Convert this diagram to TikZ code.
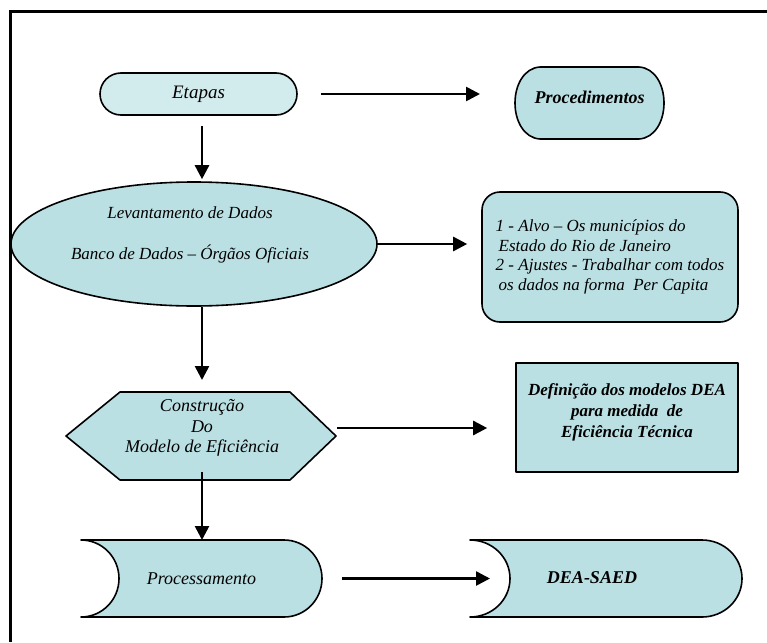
\documentclass[tikz,border=0pt]{standalone}
\usepackage{fontspec}
\setmainfont{Liberation Serif}
\usetikzlibrary{arrows.meta,shapes.geometric}
\definecolor{lightfill}{RGB}{210,235,237}
\definecolor{shapefill}{RGB}{187,224,227}
\newcommand{\fsz}[2]{\fontsize{#1}{#2}\selectfont}
\begin{document}
\begin{tikzpicture}[x=1pt,y=-1pt,
  box/.style={draw=black, line width=1.6pt, fill=shapefill, line join=round},
  arr/.style={line width=2.6pt, -{Triangle[length=14pt,width=14pt]}},
  ghost/.style={inner sep=0pt, outer sep=0pt, draw=none},
  txt/.style={inner sep=0pt, outer sep=0pt, align=center}]
\useasboundingbox (0,0) rectangle (767,642);
\fill[white] (0,0) rectangle (767,642);
% frame
\draw[line width=3pt] (10,642) -- (10,12) -- (767,12);

% Etapas
\node[box, fill=lightfill, rounded corners=21pt, minimum width=197pt, minimum height=42pt,
      inner sep=0pt, font=\fsz{19}{22}\itshape] (etapas) at (198.5,94) {Etapas};

% Procedimentos
\draw[box] (540,67) -- (639,67) .. controls (655,68) and (664,85) .. (664,103)
  .. controls (664,121) and (655,138) .. (639,139) -- (540,139)
  .. controls (524,138) and (515,121) .. (515,103)
  .. controls (515,85) and (524,68) .. (540,67) -- cycle;
\node[ghost, minimum width=149pt, minimum height=72pt] (proc) at (589.5,103) {};
\node[txt, font=\fsz{18}{21}\bfseries\itshape] (proctxt) at (589.5,97) {Procedimentos};

% Levantamento ellipse
\node[box, ellipse, minimum width=366pt, minimum height=124pt, inner sep=0pt] (lev) at (194,244) {};
\node[txt, font=\fsz{17}{41}\itshape] (levtxt) at (190,235)
  {Levantamento de Dados\\Banco de Dados – Órgãos Oficiais};

% Alvo box
\node[box, rounded corners=18pt, minimum width=256pt, minimum height=130pt, inner sep=0pt,
      align=left, font=\fsz{17}{19.5}\itshape] (alvo) at (610,257)
  {1 - Alvo – Os municípios do\\\hspace*{3pt}Estado do Rio de Janeiro\\2 - Ajustes - Trabalhar com todos\\\hspace*{3pt}os dados na forma\ \ Per Capita};

% Hexagon
\draw[box] (66,436) -- (120,392) -- (290,392) -- (336,436) -- (290,480) -- (120,480) -- cycle;
\node[ghost, minimum width=270pt, minimum height=88pt] (hex) at (202,436) {};
\node[txt, font=\fsz{18}{20.5}\itshape] (hextxt) at (202,428)
  {Construção\\Do\\Modelo de Eficiência};

% Definicao box
\node[box, minimum width=222pt, minimum height=109pt, inner sep=0pt] (def) at (627,417.5) {};
\node[txt, font=\fsz{17}{21}\bfseries\itshape] (deftxt) at (627,412)
  {Definição dos modelos DEA\\para medida\ \ de\\Eficiência Técnica};

% Processamento
\draw[box] (81,540) -- (284,540) .. controls (305,540) and (322,557.2) .. (322,578.5)
  .. controls (322,599.8) and (305,617) .. (284,617) -- (81,617)
  .. controls (102,617) and (119,599.8) .. (119,578.5)
  .. controls (119,557.2) and (102,540) .. (81,540) -- cycle;
\node[ghost, minimum width=241pt, minimum height=77pt, font=\fsz{18}{21}\itshape] (procm) at (201.5,578.5) {Processamento};

% DEA-SAED
\draw[box] (470,540) -- (702,540) .. controls (724.1,540) and (742,557.2) .. (742,578.5)
  .. controls (742,599.8) and (724.1,617) .. (702,617) -- (470,617)
  .. controls (492.1,617) and (510,599.8) .. (510,578.5)
  .. controls (510,557.2) and (492.1,540) .. (470,540) -- cycle;
\node[ghost, minimum width=272pt, minimum height=77pt] (dea) at (606,578.5) {};
\node[txt, font=\fsz{18}{21}\bfseries\itshape] (deatxt) at (592,578) {DEA-SAED};

% connectors
\coordinate (hexs) at (202,472);
\draw[arr, shorten <=23pt, shorten >=35pt] (etapas.east) -- (etapas.east -| proc.west);
\draw[arr, shorten <=10pt, shorten >=2pt] (etapas.south -| hex.center) -- (lev.north -| hex.center);
\draw[arr, shorten >=14pt] (lev.east) -- (lev.east -| alvo.west);
\draw[arr, shorten >=12pt] (lev.south -| hex.center) -- (hex.north);
\draw[arr, shorten >=28pt] (hextxt.center -| hex.east) -- (hextxt.center -| def.west);
\draw[arr] (hexs) -- (hexs |- procm.north);
\draw[arr, shorten <=20pt, shorten >=-20pt] (procm.east) -- (procm.east -| dea.west);
\end{tikzpicture}
\end{document}
